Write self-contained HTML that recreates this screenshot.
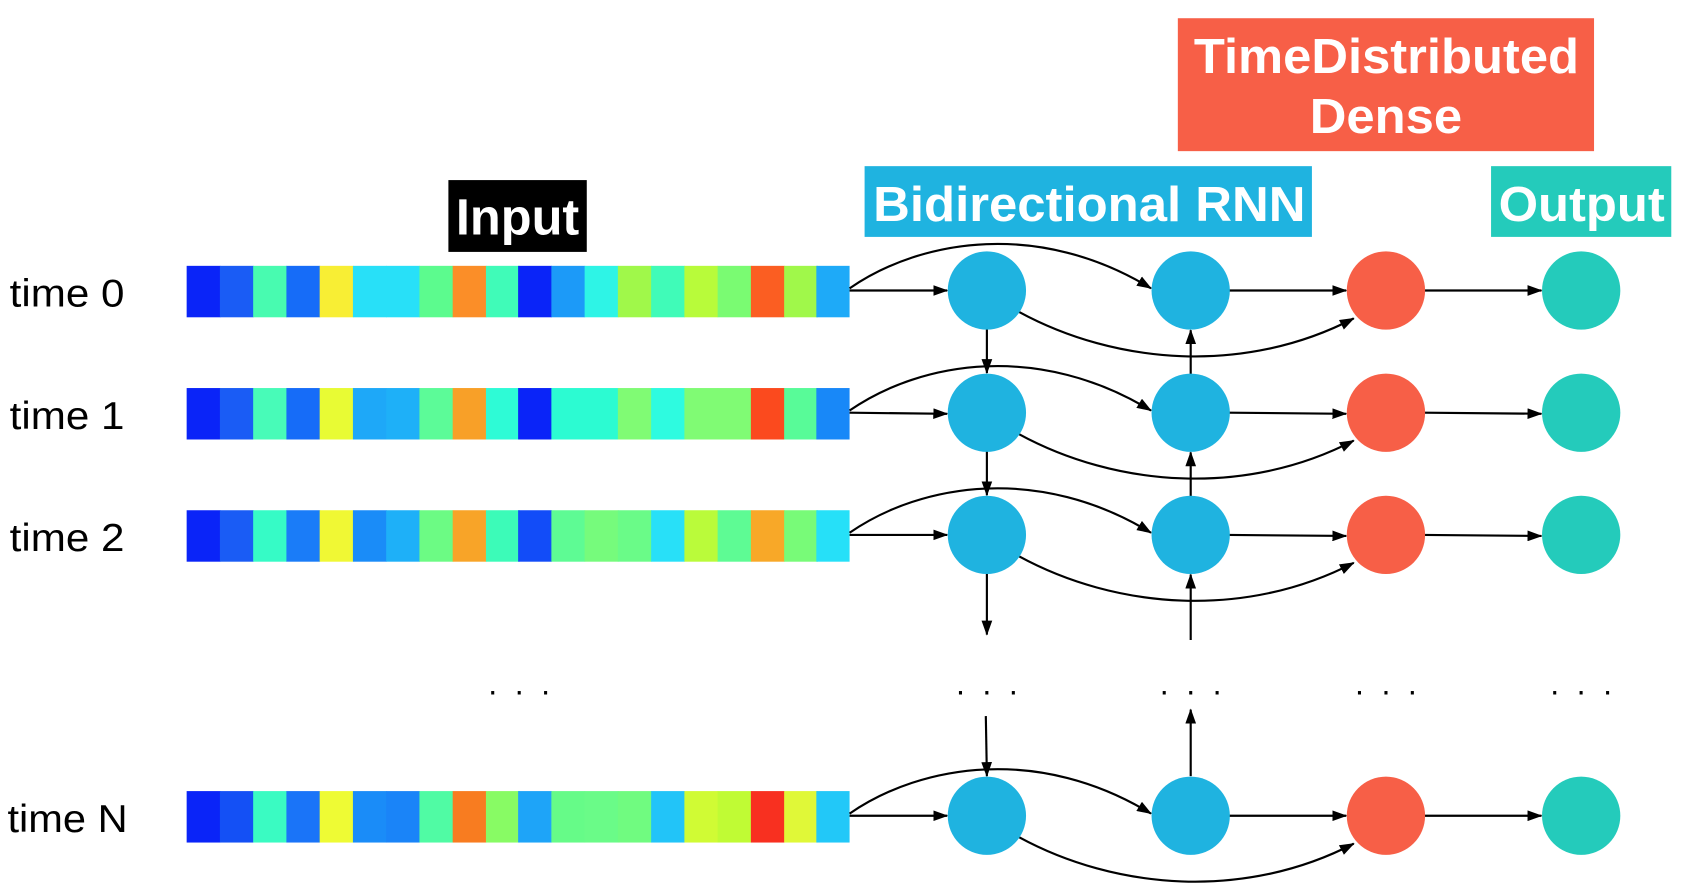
<!DOCTYPE html>
<html><head><meta charset="utf-8"><style>
html,body{margin:0;padding:0;background:#fff;width:1682px;height:894px;overflow:hidden}
svg{display:block}
.lb{font-family:"Liberation Sans",sans-serif;font-weight:bold;fill:#fff}
.t{font-family:"Liberation Sans",sans-serif;font-size:36px;fill:#000}
.d{font-family:"Liberation Sans",sans-serif;font-size:30px;fill:#000;text-anchor:middle;letter-spacing:4px}
</style></head><body>
<svg width="1682" height="894" viewBox="0 0 1568 834" preserveAspectRatio="none" xmlns="http://www.w3.org/2000/svg">
<defs><marker id="a" markerWidth="14" markerHeight="10" refX="13" refY="5" orient="auto" markerUnits="userSpaceOnUse"><path d="M0,0 L14,5 L0,10 Z" fill="#000"/></marker></defs>
<rect x="418" y="168" width="129" height="67" fill="#000"/>
<text class="lb" x="425" y="219" font-size="48" textLength="115" lengthAdjust="spacingAndGlyphs">Input</text>
<rect x="806" y="155" width="417" height="66" fill="#1fb3e0"/>
<text class="lb" x="814" y="206" font-size="46" textLength="403" lengthAdjust="spacingAndGlyphs">Bidirectional RNN</text>
<rect x="1098" y="17" width="388" height="124" fill="#f75f47"/>
<text class="lb" x="1113" y="68" font-size="46" textLength="359" lengthAdjust="spacingAndGlyphs">TimeDistributed</text>
<text class="lb" x="1221" y="124" font-size="46" textLength="142" lengthAdjust="spacingAndGlyphs">Dense</text>
<rect x="1390" y="155" width="168" height="66" fill="#24cbbb"/>
<text class="lb" x="1397" y="206" font-size="46" textLength="155" lengthAdjust="spacingAndGlyphs">Output</text>
<text class="t" x="9" y="286" textLength="107" lengthAdjust="spacingAndGlyphs">time 0</text>
<text class="t" x="9" y="400" textLength="107" lengthAdjust="spacingAndGlyphs">time 1</text>
<text class="t" x="9" y="514" textLength="107" lengthAdjust="spacingAndGlyphs">time 2</text>
<text class="t" x="7" y="776" textLength="112" lengthAdjust="spacingAndGlyphs">time N</text>
<g transform="translate(174,248)">
<rect x="0" width="31.5" height="48" fill="#0a24f8"/><rect x="31" width="31.5" height="48" fill="#1a5cf5"/><rect x="62" width="31.5" height="48" fill="#48fbb0"/><rect x="93" width="31.5" height="48" fill="#166cf8"/><rect x="124" width="31.5" height="48" fill="#f8ee34"/><rect x="155" width="31.5" height="48" fill="#28e0f8"/><rect x="186" width="31.5" height="48" fill="#28e0f8"/><rect x="217" width="31.5" height="48" fill="#5cfb8e"/><rect x="248" width="31.5" height="48" fill="#fb8e28"/><rect x="279" width="31.5" height="48" fill="#40fbb8"/><rect x="309" width="31.5" height="48" fill="#0a24f8"/><rect x="340" width="31.5" height="48" fill="#1c9af8"/><rect x="371" width="31.5" height="48" fill="#2ef4e6"/><rect x="402" width="31.5" height="48" fill="#a0f84a"/><rect x="433" width="31.5" height="48" fill="#40fbb8"/><rect x="464" width="31.5" height="48" fill="#b8fb3a"/><rect x="495" width="31.5" height="48" fill="#7afb72"/><rect x="526" width="31.5" height="48" fill="#fb5e22"/><rect x="557" width="31.5" height="48" fill="#a0f84a"/><rect x="587" width="31" height="48" fill="#1eaaf8"/>
</g>
<g transform="translate(174,362)">
<rect x="0" width="31.5" height="48" fill="#0a24f8"/><rect x="31" width="31.5" height="48" fill="#1a5cf5"/><rect x="62" width="31.5" height="48" fill="#48fbb8"/><rect x="93" width="31.5" height="48" fill="#166cf8"/><rect x="124" width="31.5" height="48" fill="#e8fb34"/><rect x="155" width="31.5" height="48" fill="#1ea8f8"/><rect x="186" width="31.5" height="48" fill="#1eb0f8"/><rect x="217" width="31.5" height="48" fill="#5cfb98"/><rect x="248" width="31.5" height="48" fill="#f8a028"/><rect x="279" width="31.5" height="48" fill="#2efbd6"/><rect x="309" width="31.5" height="48" fill="#0a24f8"/><rect x="340" width="31.5" height="48" fill="#2cfbd2"/><rect x="371" width="31.5" height="48" fill="#2cfbd2"/><rect x="402" width="31.5" height="48" fill="#80fb74"/><rect x="433" width="31.5" height="48" fill="#2efbe0"/><rect x="464" width="31.5" height="48" fill="#80fb74"/><rect x="495" width="31.5" height="48" fill="#80fb74"/><rect x="526" width="31.5" height="48" fill="#fb4a1e"/><rect x="557" width="31.5" height="48" fill="#58fb98"/><rect x="587" width="31" height="48" fill="#1888f8"/>
</g>
<g transform="translate(174,476)">
<rect x="0" width="31.5" height="48" fill="#0a24f8"/><rect x="31" width="31.5" height="48" fill="#1a5cf5"/><rect x="62" width="31.5" height="48" fill="#36fbc6"/><rect x="93" width="31.5" height="48" fill="#1a7cf8"/><rect x="124" width="31.5" height="48" fill="#f0f834"/><rect x="155" width="31.5" height="48" fill="#1a8cf8"/><rect x="186" width="31.5" height="48" fill="#1eb0f8"/><rect x="217" width="31.5" height="48" fill="#6cfb84"/><rect x="248" width="31.5" height="48" fill="#f8a428"/><rect x="279" width="31.5" height="48" fill="#3cfbb8"/><rect x="309" width="31.5" height="48" fill="#124cf8"/><rect x="340" width="31.5" height="48" fill="#5efb94"/><rect x="371" width="31.5" height="48" fill="#76fb7c"/><rect x="402" width="31.5" height="48" fill="#6afb88"/><rect x="433" width="31.5" height="48" fill="#28e0f8"/><rect x="464" width="31.5" height="48" fill="#bafb3a"/><rect x="495" width="31.5" height="48" fill="#5efb94"/><rect x="526" width="31.5" height="48" fill="#f8a828"/><rect x="557" width="31.5" height="48" fill="#78fb78"/><rect x="587" width="31" height="48" fill="#26e0f8"/>
</g>
<g transform="translate(174,738)">
<rect x="0" width="31.5" height="48" fill="#0a24f8"/><rect x="31" width="31.5" height="48" fill="#1450f5"/><rect x="62" width="31.5" height="48" fill="#3afbc2"/><rect x="93" width="31.5" height="48" fill="#1a74f8"/><rect x="124" width="31.5" height="48" fill="#eefb34"/><rect x="155" width="31.5" height="48" fill="#1a8cf8"/><rect x="186" width="31.5" height="48" fill="#1a84f8"/><rect x="217" width="31.5" height="48" fill="#50fba4"/><rect x="248" width="31.5" height="48" fill="#f87c20"/><rect x="279" width="31.5" height="48" fill="#88fb64"/><rect x="309" width="31.5" height="48" fill="#1ea4f8"/><rect x="340" width="31.5" height="48" fill="#66fb88"/><rect x="371" width="31.5" height="48" fill="#6afb88"/><rect x="402" width="31.5" height="48" fill="#70fb80"/><rect x="433" width="31.5" height="48" fill="#22c4f8"/><rect x="464" width="31.5" height="48" fill="#d0fb34"/><rect x="495" width="31.5" height="48" fill="#c0fb34"/><rect x="526" width="31.5" height="48" fill="#f83020"/><rect x="557" width="31.5" height="48" fill="#e0f838"/><rect x="587" width="31" height="48" fill="#22c8f8"/>
</g>
<text class="d" x="486" y="648">. . .</text>
<text class="d" x="922" y="648">. . .</text>
<text class="d" x="1112" y="648">. . .</text>
<text class="d" x="1294" y="648">. . .</text>
<text class="d" x="1476" y="648">. . .</text>
<g stroke="#000" stroke-width="2" fill="none" marker-end="url(#a)">
<path d="M792,271 L883,271"/><path d="M792,269 C860,222 970,206 1073,269"/><path d="M950,291 C1040,340 1160,350 1262,297"/><path d="M1146,271 L1255,271"/><path d="M1328,271 L1437,271"/>
<path d="M792,385 L883,386"/><path d="M792,383 C860,336 970,320 1073,383"/><path d="M950,405 C1040,454 1160,464 1262,411"/><path d="M1146,385 L1255,386"/><path d="M1328,385 L1437,386"/>
<path d="M792,499 L883,499"/><path d="M792,497 C860,450 970,434 1073,497"/><path d="M950,519 C1040,568 1160,578 1262,525"/><path d="M1146,499 L1255,500"/><path d="M1328,499 L1437,500"/>
<path d="M792,761 L883,761"/><path d="M792,759 C860,712 970,696 1073,759"/><path d="M950,781 C1040,830 1160,840 1262,787"/><path d="M1146,761 L1255,761"/><path d="M1328,761 L1437,761"/>
<path d="M920,307 L920,348"/><path d="M920,421 L920,462"/><path d="M920,535 L920,592"/><path d="M919,668 L920,724"/>
<path d="M1110,349 L1110,308"/><path d="M1110,463 L1110,422"/><path d="M1110,597 L1110,536"/><path d="M1110,724 L1110,662"/>
</g>
<g fill="#1fb3e0">
<circle cx="920" cy="271" r="36.5"/><circle cx="920" cy="385" r="36.5"/><circle cx="920" cy="499" r="36.5"/><circle cx="920" cy="761" r="36.5"/>
<circle cx="1110" cy="271" r="36.5"/><circle cx="1110" cy="385" r="36.5"/><circle cx="1110" cy="499" r="36.5"/><circle cx="1110" cy="761" r="36.5"/>
</g>
<g fill="#f75f47">
<circle cx="1292" cy="271" r="36.5"/><circle cx="1292" cy="385" r="36.5"/><circle cx="1292" cy="499" r="36.5"/><circle cx="1292" cy="761" r="36.5"/>
</g>
<g fill="#24cbbb">
<circle cx="1474" cy="271" r="36.5"/><circle cx="1474" cy="385" r="36.5"/><circle cx="1474" cy="499" r="36.5"/><circle cx="1474" cy="761" r="36.5"/>
</g>
</svg>
</body></html>
